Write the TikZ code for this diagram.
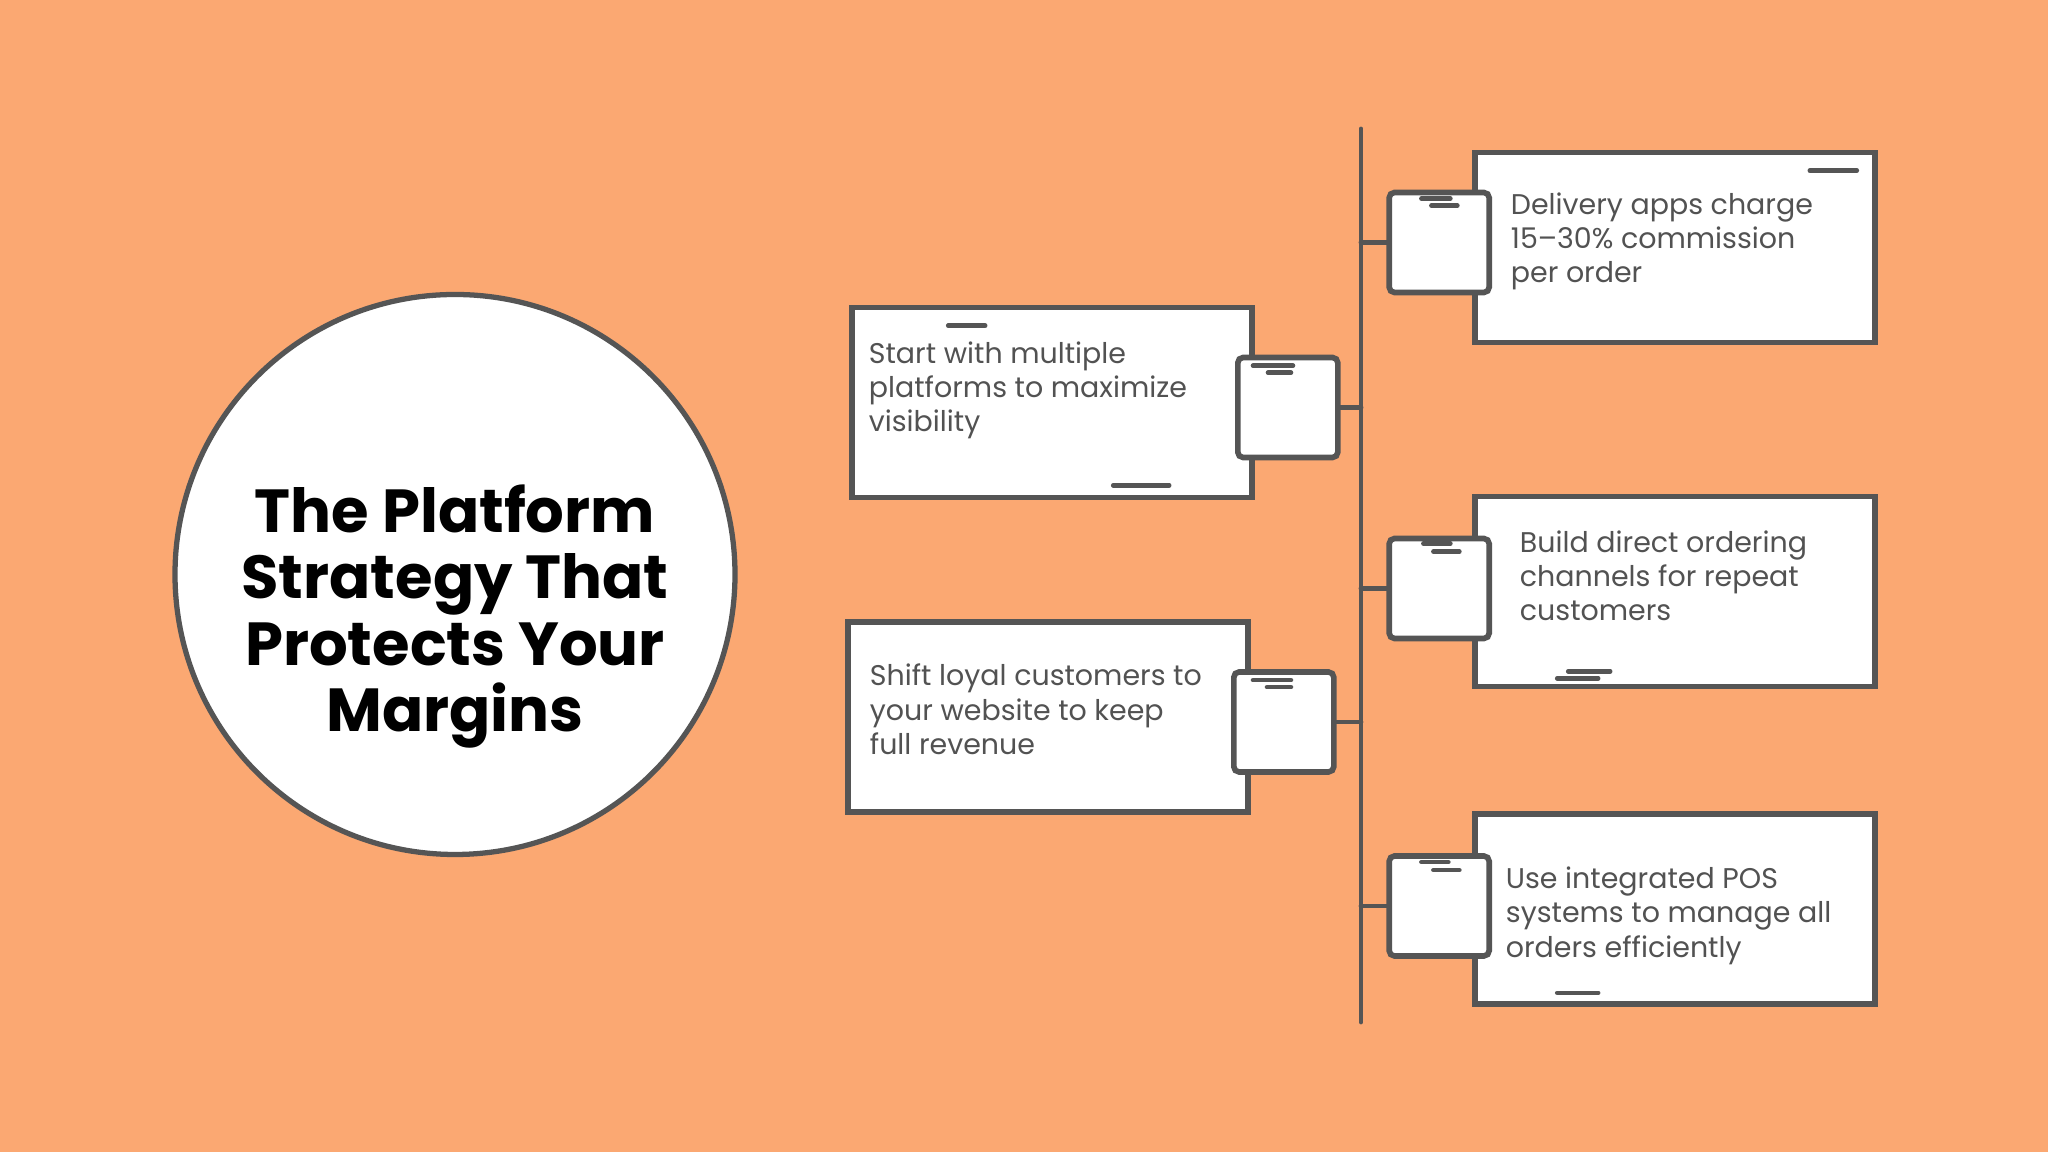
\documentclass[tikz,border=0pt]{standalone}
\usepackage{fontspec}
\setmainfont{Poppins}
\definecolor{spOrange}{RGB}{251,168,114}
\definecolor{spInk}{RGB}{85,85,85}
\definecolor{spText}{RGB}{82,82,82}
\usetikzlibrary{positioning}
\tikzset{
  notebox/.style={rectangle, draw=spInk, line width=1.6pt, fill=white, minimum width=4cm, minimum height=1.9cm, inner sep=0pt},
  tabbox/.style={rectangle, rounded corners=1.5pt, draw=spInk, line width=1.6pt, fill=white, minimum size=1cm, inner sep=0pt},
  notetext/.style={anchor=north west, inner sep=0pt, align=left, text=spText, font=\fontsize{8.1}{9.8}\selectfont},
  hub/.style={circle, draw=spInk, line width=1.5pt, fill=white, minimum size=5.6cm, inner sep=0pt},
  hubtitle/.style={anchor=north, inner sep=0pt, align=center, font=\bfseries\fontsize{17.3}{18.9}\selectfont},
  link/.style={draw=spInk, line width=1.4pt, line cap=round},
  sketch/.style={draw=spInk, line width=1.3pt, line cap=round},
}

\begin{document}
\begin{tikzpicture}
  \fill[spOrange] (0,0) rectangle (20.48,11.52);
  \useasboundingbox (0,0) rectangle (20.48,11.52);

  % title circle
  \node[hub] (hub) at (4.55, 5.775) {};
  \node[hubtitle] (title) at (4.55, 6.68) {The Platform\\Strategy That\\Protects Your\\Margins};

  % spine
  \coordinate (spinetop) at (13.61, 10.23);
  \coordinate (spinebot) at (13.61, 1.30);
  \draw[link] (spinetop) -- (spinebot);

  % right notes
  \node[notebox] (r1) at (16.75, 9.045) {};
  \node[notebox] (r2) at (16.75, 5.605) {};
  \node[notebox] (r3) at (16.75, 2.43) {};
  \node[tabbox] (s1) at ([xshift=-0.33cm, yshift=0.05cm]r1.west) {};
  \node[tabbox] (s2) at ([xshift=-0.33cm, yshift=0.03cm]r2.west) {};
  \node[tabbox] (s3) at ([xshift=-0.33cm, yshift=0.03cm]r3.west) {};

  % left notes
  \node[notebox] (l1) at (10.52, 7.495) {};
  \node[notebox] (l2) at (10.48, 4.35) {};
  \node[tabbox] (q1) at ([xshift=0.33cm, yshift=-0.05cm]l1.east) {};
  \node[tabbox] (q2) at ([xshift=0.33cm, yshift=-0.05cm]l2.east) {};

  \foreach \n in {s1,s2,s3} {
    \draw[link] (\n.west) -- (\n.west -| spinetop);
  }
  \foreach \n in {q1,q2} {
    \draw[link] (\n.east) -- (\n.east -| spinetop);
  }

  % texts
  \node[notetext] (t1) at ([shift={(0.38,-0.42)}]r1.north west) {Delivery apps charge\\15–30\% commission\\per order};
  \node[notetext] (t2) at ([shift={(0.47,-0.36)}]r2.north west) {Build direct ordering\\channels for repeat\\customers};
  \node[notetext] (t3) at ([shift={(0.33,-0.55)}]r3.north west) {Use integrated POS\\systems to manage all\\orders efficiently};
  \node[notetext] (t4) at ([shift={(0.19,-0.36)}]l1.north west) {Start with multiple\\platforms to maximize\\visibility};
  \node[notetext] (t5) at ([shift={(0.24,-0.44)}]l2.north west) {Shift loyal customers to\\your website to keep\\full revenue};

  % sketch strokes
  \draw[sketch] ([shift={(-0.68,-0.21)}]r1.north east) -- ++(0.47,0);
  \draw[sketch] ([shift={(0.35,-0.09)}]s1.north west) -- ++(0.29,0);
  \draw[sketch] ([shift={(0.45,-0.16)}]s1.north west) -- ++(0.26,0);
  \draw[sketch] ([shift={(0.96,0.18)}]r2.south west) -- ++(0.42,0);
  \draw[sketch] ([shift={(0.85,0.11)}]r2.south west) -- ++(0.41,0);
  \draw[sketch] ([shift={(0.37,-0.08)}]s2.north west) -- ++(0.27,0);
  \draw[sketch] ([shift={(0.47,-0.16)}]s2.north west) -- ++(0.26,0);
  \draw[sketch] ([shift={(0.85,0.14)}]r3.south west) -- ++(0.41,0);
  \draw[sketch] ([shift={(0.35,-0.09)}]s3.north west) -- ++(0.27,0);
  \draw[sketch] ([shift={(0.47,-0.17)}]s3.north west) -- ++(0.26,0);
  \draw[sketch] ([shift={(0.99,-0.21)}]l1.north west) -- ++(0.37,0);
  \draw[sketch] ([shift={(2.64,0.15)}]l1.south west) -- ++(0.56,0);
  \draw[sketch] ([shift={(0.18,-0.11)}]q1.north west) -- ++(0.40,0);
  \draw[sketch] ([shift={(0.33,-0.18)}]q1.north west) -- ++(0.23,0);
  \draw[sketch] ([shift={(0.22,-0.11)}]q2.north west) -- ++(0.38,0);
  \draw[sketch] ([shift={(0.36,-0.18)}]q2.north west) -- ++(0.24,0);
\end{tikzpicture}
\end{document}
